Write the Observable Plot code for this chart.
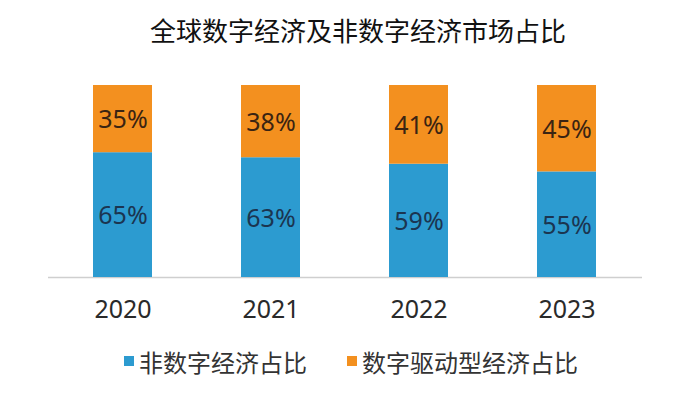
<!DOCTYPE html>
<html>
<head>
<meta charset="utf-8">
<script src="https://cdn.jsdelivr.net/npm/d3@7"></script>
<script src="https://cdn.jsdelivr.net/npm/@observablehq/plot@0.6"></script>
<style>
  html, body { margin: 0; padding: 0; background: #fff; }
  body { width: 700px; height: 394px; overflow: hidden; font-family: "Noto Sans", "Noto Sans CJK SC", sans-serif; }
  #title { height: 60px; line-height: 60px; font-size: 26px; color: #111; text-align: center; padding-left: 16px; box-sizing: border-box; font-family: "Noto Sans CJK SC", sans-serif; }
  #legend { height: 52px; display: flex; justify-content: center; align-items: center; font-size: 24px; color: #333; font-family: "Noto Sans CJK SC", sans-serif; padding-left: 2px; box-sizing: border-box; }
  .item { display: flex; align-items: center; margin: 0 20px; }
  .sw { width: 10px; height: 10px; margin-right: 5px; }
  svg { display: block; }
</style>
</head>
<body>
<div id="title">全球数字经济及非数字经济市场占比</div>
<div id="chart"></div>
<div id="legend"></div>
<script>
const years = ["2020", "2021", "2022", "2023"];
const seriesNames = ["非数字经济占比", "数字驱动型经济占比"];
const nonDigitalShare = [65, 63, 59, 55];
const digitalShare = [35, 38, 41, 45];
const colors = ["#2C9BD0", "#F3901F"];
const labelColors = ["#1B3550", "#3A2412"];

const data = [];
years.forEach((y, i) => {
  data.push({year: y, series: seriesNames[0], value: nonDigitalShare[i]});
  data.push({year: y, series: seriesNames[1], value: digitalShare[i]});
});

const plot = Plot.plot({
  width: 700,
  height: 275,
  marginTop: 25,
  marginBottom: 58,
  marginLeft: 48,
  marginRight: 58,
  style: {background: "#fff", fontFamily: "'Noto Sans', sans-serif"},
  x: {domain: years, paddingInner: 0.6, paddingOuter: 0.3, label: null},
  y: {axis: null, domain: [0, 1]},
  color: {domain: seriesNames, range: colors},
  marks: [
    Plot.ruleY([0], {stroke: "#cfcfcf", strokeWidth: 1.5}),
    Plot.barY(data, Plot.stackY({offset: "normalize", x: "year", y: "value", z: "series", fill: "series", order: seriesNames})),
    Plot.text(data, Plot.stackY({offset: "normalize", x: "year", y: "value", z: "series", order: seriesNames,
      text: d => d.series === seriesNames[0] ? d.value + "%" : null,
      fill: labelColors[0], fontSize: 25, dy: 1})),
    Plot.text(data, Plot.stackY({offset: "normalize", x: "year", y: "value", z: "series", order: seriesNames,
      text: d => d.series === seriesNames[1] ? d.value + "%" : null,
      fill: labelColors[1], fontSize: 25, dy: 1})),
    Plot.axisX({tickSize: 0, tickPadding: 23, fontSize: 25, fill: "#2a2a2a", label: null})
  ]
});
document.getElementById("chart").appendChild(plot);

const legend = document.getElementById("legend");
seriesNames.forEach((name, i) => {
  const item = document.createElement("div");
  item.className = "item";
  const sw = document.createElement("span");
  sw.className = "sw";
  sw.style.background = colors[i];
  const t = document.createElement("span");
  t.textContent = name;
  item.appendChild(sw);
  item.appendChild(t);
  legend.appendChild(item);
});
</script>
</body>
</html>
